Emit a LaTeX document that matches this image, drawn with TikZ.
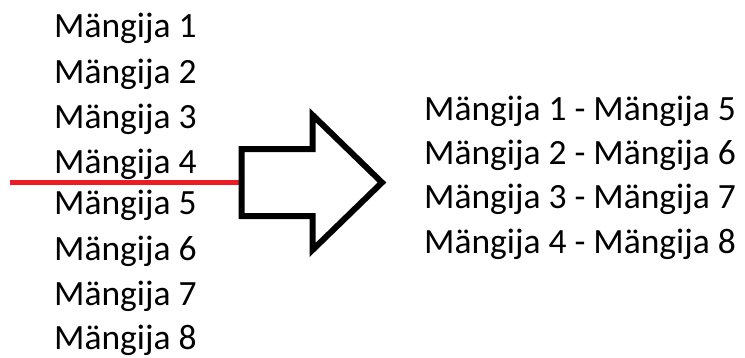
\documentclass[tikz,border=0pt]{standalone}
\usepackage{fontspec}
\setmainfont{Carlito}
\definecolor{cutred}{HTML}{ED1C24}
\begin{document}
\begin{tikzpicture}[x=1pt,y=-1pt,
  item/.style={anchor=base west,inner sep=0pt,font=\fontsize{35.5}{42}\selectfont},
  bigarrow/.style={draw=black,line width=6pt,line join=miter},
  cutline/.style={draw=cutred,line width=4.5pt}]
\useasboundingbox (0,0) rectangle (745,357);
% list of players
\node[item] (l1) at (54,37) {Mängija 1};
\node[item] (l2) at (54,83) {Mängija 2};
\node[item] (l3) at (54,128) {Mängija 3};
\node[item] (l4) at (54,173) {Mängija 4};
\node[item] (l5) at (54,214) {Mängija 5};
\node[item] (l6) at (54,260) {Mängija 6};
\node[item] (l7) at (54,305) {Mängija 7};
\node[item] (l8) at (54,349) {Mängija 8};
% pairings
\node[item] (p1) at (424,120) {Mängija 1 - Mängija 5};
\node[item] (p2) at (424,164) {Mängija 2 - Mängija 6};
\node[item] (p3) at (424,208) {Mängija 3 - Mängija 7};
\node[item] (p4) at (424,253) {Mängija 4 - Mängija 8};
% block arrow
\coordinate (a1) at (241.5,149);
\coordinate (a2) at (312.5,149);
\coordinate (a3) at (312.5,115);
\coordinate (tip) at (382,182.5);
\coordinate (a5) at (312.5,250);
\coordinate (a6) at (312.5,216);
\coordinate (a7) at (241.5,216);
\coordinate (cut) at (238.5,182.5);
\coordinate (cutstart) at (10,182.5);
\draw[cutline] (cutstart) -- (cut);
\draw[bigarrow] (a1) -- (a2) -- (a3) -- (tip) -- (a5) -- (a6) -- (a7) -- cycle;
\end{tikzpicture}
\end{document}
